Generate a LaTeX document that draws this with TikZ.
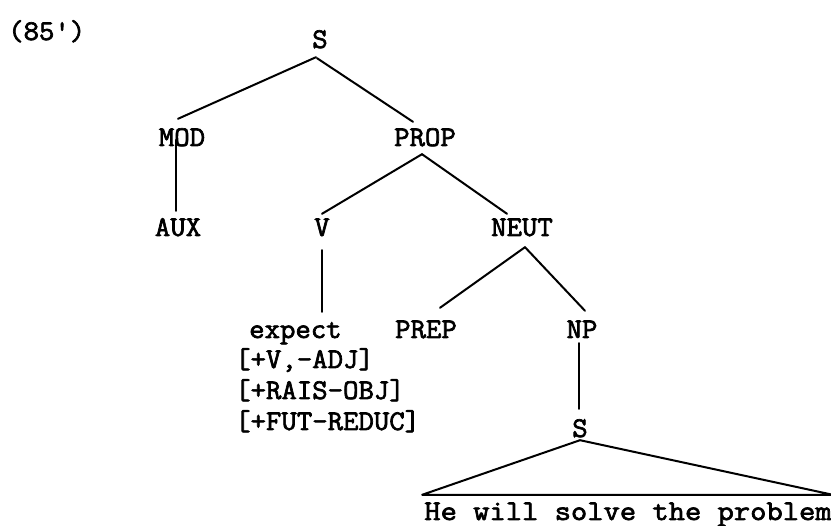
\documentclass[tikz,border=0pt]{standalone}
\usepackage{fontspec}
\newfontfamily\tw{Latin Modern Mono}[FakeStretch=1.05, FakeBold=2.4]
\newfontfamily\twwide{Latin Modern Mono}[FakeStretch=1.11, FakeBold=2.4]
\begin{document}
\begin{tikzpicture}[x=1pt,y=-1pt,
  lab/.style={font=\tw\fontsize{28.5}{30}\selectfont, inner sep=0pt,
              text height=16pt, text depth=0pt, anchor=base},
  featline/.style={lab, anchor=base west},
  branch/.style={line width=2pt, line cap=round}]
\useasboundingbox[fill=white] (0,0) rectangle (831,526);

% example number
\node[featline] (num) at (8,40) {(85')};

% tree nodes
\node[lab] (S)    at (320,48)  {S};
\node[lab] (MOD)  at (182,146) {MOD};
\node[lab] (PROP) at (425,146) {PROP};
\node[lab] (AUX)  at (178,236) {AUX};
\node[lab] (V)    at (322,236) {V};
\node[lab] (NEUT) at (522,236) {NEUT};
\node[featline] (expect) at (249,338) {expect};
\node[featline] (f1) at (235,368) {[+V,-ADJ]};
\node[featline] (f2) at (235,399) {[+RAIS-OBJ]};
\node[featline] (f3) at (235,430) {[+FUT-REDUC]};
\node[lab] (PREP) at (426,338) {PREP};
\node[lab] (NP)   at (582,338) {NP};
\node[lab] (S2)   at (580,437) {S};
\node[lab, font=\twwide\fontsize{28.5}{30}\selectfont] (sent) at (628,520)
  {He will solve the problem};

% branches
\draw[branch] ([xshift=-4pt,yshift=-9pt]S.south) -- ([xshift=-4pt,yshift=11pt]MOD.north);
\draw[branch] ([xshift=-3pt,yshift=-10pt]S.south) -- ([xshift=-12pt,yshift=8pt]PROP.north);
\draw[branch] ([xshift=-6pt,yshift=6pt]MOD.base) -- ([xshift=-2pt,yshift=9pt]AUX.north);
\draw[branch] ([xshift=-3pt,yshift=-8pt]PROP.south) -- ([yshift=6pt]V.north);
\draw[branch] ([xshift=-3pt,yshift=-8pt]PROP.south) -- ([xshift=-15pt,yshift=6pt]NEUT.north);
\draw[branch, shorten <=14pt, shorten >=10pt] (V.south) -- (V.south |- expect.north);
\draw[branch] ([xshift=3pt,yshift=-11pt]NEUT.south) -- ([xshift=14pt,yshift=14pt]PREP.north);
\draw[branch] ([xshift=3pt,yshift=-11pt]NEUT.south) -- ([xshift=3pt,yshift=11pt]NP.north);
\draw[branch] ([xshift=-3pt,yshift=-5pt]NP.south) -- ([xshift=-1pt,yshift=12pt]S2.north);

% roof over the embedded sentence
\draw[branch, line join=round]
  ([xshift=-2pt,yshift=9pt]sent.north west) -- ([yshift=-3pt]S2.south)
  -- ([xshift=1pt,yshift=9pt]sent.north east) -- cycle;
\end{tikzpicture}
\end{document}
